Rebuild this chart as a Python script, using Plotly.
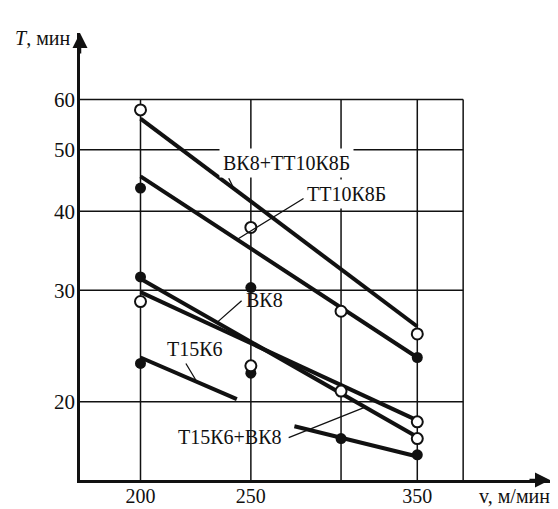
import numpy as np
import plotly.graph_objects as go

# ---------------- data ----------------
# measured points, v in m/min, T in min
open_v = [200, 250, 300, 350, 200, 250, 300, 350, 350]
open_T = [57.8, 37.7, 27.8, 25.6, 28.8, 22.8, 20.8, 18.6, 17.5]
filled_v = [200, 250, 350, 200, 250, 200, 300, 350]
filled_T = [43.5, 30.3, 23.5, 31.5, 22.2, 23.0, 17.5, 16.5]

# drawn T(v) lines (end points)
vk8_tt_v, vk8_tt_T = [200, 350], [56.0, 26.3]        # ВК8+ТТ10К8Б
tt_v, tt_T = [200, 350], [45.4, 23.5]                # ТТ10К8Б
vk8a_v, vk8a_T = [200, 350], [31.3, 17.6]            # ВК8 / Т15К6+ВК8
vk8b_v, vk8b_T = [200, 350], [29.8, 18.7]            # ВК8
t15_v, t15_T = [200, 243], [23.5, 20.2]              # Т15К6
t15vk_v, t15vk_T = [273, 350], [18.3, 16.4]          # short lower line

x_ticks = [200, 250, 350]
x_grid = [200, 250, 300, 350]
y_ticks = [20, 30, 40, 50, 60]

# ---------------- layout constants ----------------
XR = [2.24791, 2.66059]     # log10 range of v axis
YR = [1.177698, 1.883280]   # log10 range of T axis
GRID_RIGHT = 384
GRID_TOP = 60
FONT = "Liberation Serif, Times New Roman, serif"
BLACK = "#111111"

fig = go.Figure()

# grid (box) lines
gx, gy = [], []
x_left = 10 ** XR[0]
y_bottom = 10 ** YR[0]
for t in y_ticks:
    gx += [x_left, GRID_RIGHT, None]
    gy += [t, t, None]
for v in x_grid + [GRID_RIGHT]:
    gx += [v, v, None]
    gy += [y_bottom, GRID_TOP, None]
fig.add_trace(go.Scatter(x=gx, y=gy, mode="lines",
                         line=dict(color=BLACK, width=1.5),
                         hoverinfo="skip", showlegend=False))

# bold lines
for lv, lt in [(vk8_tt_v, vk8_tt_T), (tt_v, tt_T), (vk8a_v, vk8a_T),
               (vk8b_v, vk8b_T), (t15_v, t15_T), (t15vk_v, t15vk_T)]:
    fig.add_trace(go.Scatter(x=lv, y=lt, mode="lines",
                             line=dict(color=BLACK, width=4),
                             hoverinfo="skip", showlegend=False))

# markers
fig.add_trace(go.Scatter(x=filled_v, y=filled_T, mode="markers",
                         marker=dict(symbol="circle", size=11, color=BLACK),
                         showlegend=False))
fig.add_trace(go.Scatter(x=open_v, y=open_T, mode="markers",
                         marker=dict(symbol="circle", size=11, color="white",
                                     line=dict(color=BLACK, width=2)),
                         showlegend=False))

ann = []
# series labels (paper coordinates)
labels = [
    ("ВК8+ТТ10К8Б", 0.4404, 0.7092, True),
    ("ТТ10К8Б", 0.5660, 0.6398, True),
    ("ВК8", 0.3936, 0.4027, False),
    ("Т15К6", 0.2447, 0.2931, False),
    ("Т15К6+ВК8", 0.3191, 0.0962, False),
]
for txt, px, py, bg in labels:
    a = dict(text=txt, x=px, y=py, xref="paper", yref="paper", showarrow=False,
             xanchor="center", yanchor="middle",
             font=dict(family=FONT, size=20, color=BLACK))
    if bg:
        a.update(bgcolor="white", borderpad=3)
    ann.append(a)

# leader lines (tip on the line, tail offset in pixels)
leaders = [
    (241.6, 43.4, -6, -12),
    (243.1, 36.08, 68, -42),
    (233.5, 26.7, 26, -23),
    (224.2, 21.5, -12, -20),
    (315.0, 19.62, -78, 31),
]
for v, t, ax, ay in leaders:
    ann.append(dict(text="", x=np.log10(v), y=np.log10(t), xref="x", yref="y",
                    showarrow=True, arrowhead=0, arrowwidth=1.3, arrowcolor=BLACK,
                    ax=ax, ay=ay))

# axis titles
ann.append(dict(text="<i>T</i>, мин", x=-0.017, y=0.989, xref="paper", yref="paper",
                showarrow=False, xanchor="right", yanchor="middle",
                font=dict(family=FONT, size=20, color=BLACK)))
ann.append(dict(text="v, м/мин", x=0.9255, y=-0.036, xref="paper", yref="paper",
                showarrow=False, xanchor="center", yanchor="middle",
                font=dict(family=FONT, size=20, color=BLACK)))
# axis arrows
ann.append(dict(text="", x=0, y=1, xref="paper", yref="paper", showarrow=True,
                arrowhead=2, arrowsize=1.2, arrowwidth=2.5, arrowcolor=BLACK,
                ax=0, ay=22))
ann.append(dict(text="", x=1, y=0, xref="paper", yref="paper", showarrow=True,
                arrowhead=2, arrowsize=1.2, arrowwidth=2.5, arrowcolor=BLACK,
                ax=-22, ay=0))

fig.update_layout(
    width=558, height=509,
    margin=dict(l=80, r=8, t=33, b=29, autoexpand=False),
    paper_bgcolor="white", plot_bgcolor="white",
    showlegend=False,
    annotations=ann,
    font=dict(family=FONT, size=20, color=BLACK),
)
fig.update_xaxes(type="log", range=XR, tickvals=x_ticks, ticktext=[str(v) for v in x_ticks],
                 showgrid=False, zeroline=False, showline=True, linecolor=BLACK,
                 linewidth=2.5, ticks="", ticklabelstandoff=-4, automargin=False,
                 tickfont=dict(family=FONT, size=20, color=BLACK))
fig.update_yaxes(type="log", range=YR, tickvals=y_ticks, ticktext=[str(t) for t in y_ticks],
                 showgrid=False, zeroline=False, showline=True, linecolor=BLACK,
                 linewidth=2.5, ticks="", ticklabelstandoff=-2, automargin=False,
                 tickfont=dict(family=FONT, size=21, color=BLACK))

fig.write_html("out.html", config={"displayModeBar": False},
               post_script="document.body.style.margin='0';document.body.style.overflow='hidden';")
